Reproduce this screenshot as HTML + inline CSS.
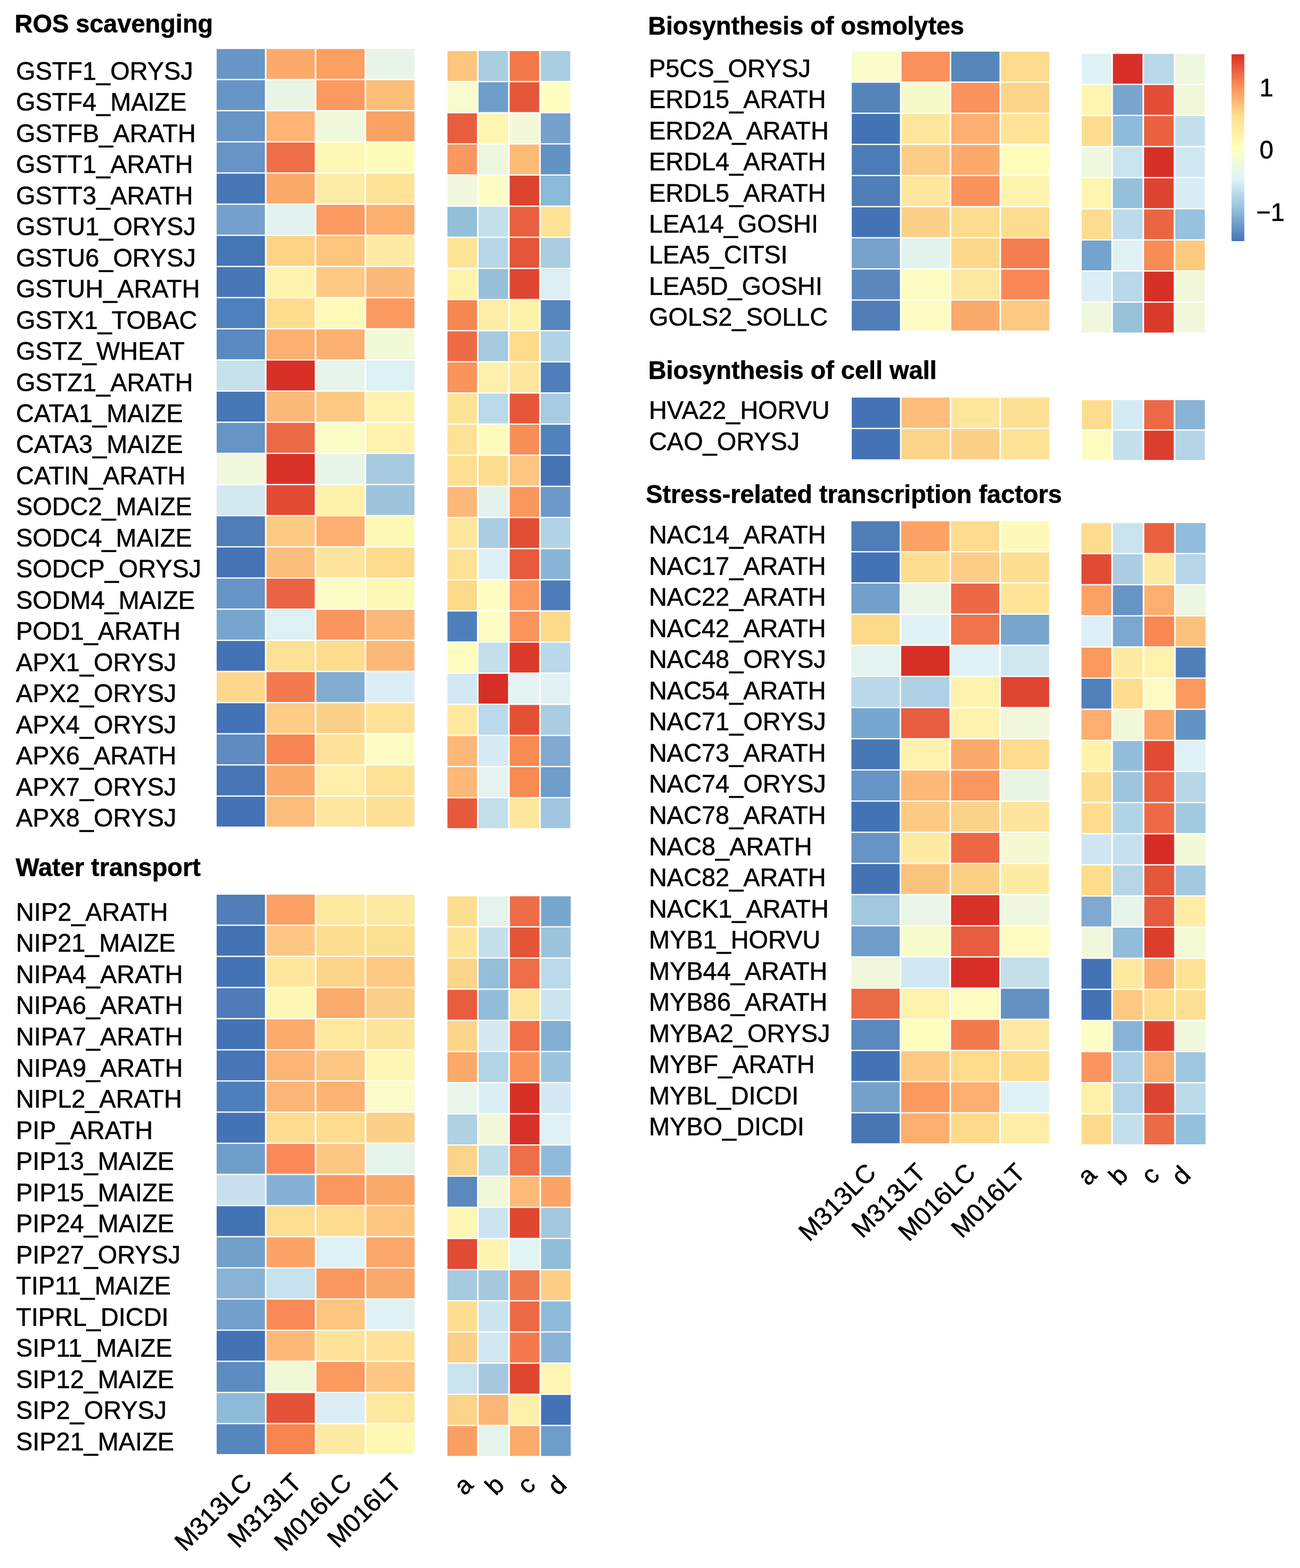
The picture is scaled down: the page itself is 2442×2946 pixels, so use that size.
<!DOCTYPE html>
<html><head><meta charset="utf-8"><title>Heatmap</title>
<style>
html,body{margin:0;padding:0;background:#fff;}
body{width:2442px;height:2946px;overflow:hidden;}
svg{display:block;}
#w{}
text{font-family:"Liberation Sans", Arial, sans-serif;font-size:48px;fill:#000;stroke:#000;stroke-width:0.6px;}
text.b{font-weight:bold;font-size:48px;}
</style></head><body>
<div id="w"><svg width="2442" height="2946" viewBox="0 0 2442 2946">
<defs><linearGradient id="lg" x1="0" y1="0" x2="0" y2="1">
<stop offset="0" stop-color="#D73027"/>
<stop offset="0.1667" stop-color="#FC8D59"/>
<stop offset="0.3333" stop-color="#FEE090"/>
<stop offset="0.5" stop-color="#FFFFBF"/>
<stop offset="0.6667" stop-color="#E0F3F8"/>
<stop offset="0.8333" stop-color="#91BFDB"/>
<stop offset="1" stop-color="#4575B4"/>
</linearGradient></defs>
<text class="b" transform="translate(27.60 61.00) scale(0.977 1)">ROS scavenging</text>
<text transform="translate(30.00 149.80) scale(0.977 1)">GSTF1_ORYSJ</text>
<text transform="translate(30.00 208.27) scale(0.977 1)">GSTF4_MAIZE</text>
<text transform="translate(30.00 266.74) scale(0.977 1)">GSTFB_ARATH</text>
<text transform="translate(30.00 325.21) scale(0.977 1)">GSTT1_ARATH</text>
<text transform="translate(30.00 383.68) scale(0.977 1)">GSTT3_ARATH</text>
<text transform="translate(30.00 442.15) scale(0.977 1)">GSTU1_ORYSJ</text>
<text transform="translate(30.00 500.62) scale(0.977 1)">GSTU6_ORYSJ</text>
<text transform="translate(30.00 559.09) scale(0.977 1)">GSTUH_ARATH</text>
<text transform="translate(30.00 617.56) scale(0.977 1)">GSTX1_TOBAC</text>
<text transform="translate(30.00 676.03) scale(0.977 1)">GSTZ_WHEAT</text>
<text transform="translate(30.00 734.50) scale(0.977 1)">GSTZ1_ARATH</text>
<text transform="translate(30.00 792.97) scale(0.977 1)">CATA1_MAIZE</text>
<text transform="translate(30.00 851.44) scale(0.977 1)">CATA3_MAIZE</text>
<text transform="translate(30.00 909.91) scale(0.977 1)">CATIN_ARATH</text>
<text transform="translate(30.00 968.38) scale(0.977 1)">SODC2_MAIZE</text>
<text transform="translate(30.00 1026.85) scale(0.977 1)">SODC4_MAIZE</text>
<text transform="translate(30.00 1085.32) scale(0.977 1)">SODCP_ORYSJ</text>
<text transform="translate(30.00 1143.79) scale(0.977 1)">SODM4_MAIZE</text>
<text transform="translate(30.00 1202.26) scale(0.977 1)">POD1_ARATH</text>
<text transform="translate(30.00 1260.73) scale(0.977 1)">APX1_ORYSJ</text>
<text transform="translate(30.00 1319.20) scale(0.977 1)">APX2_ORYSJ</text>
<text transform="translate(30.00 1377.67) scale(0.977 1)">APX4_ORYSJ</text>
<text transform="translate(30.00 1436.14) scale(0.977 1)">APX6_ARATH</text>
<text transform="translate(30.00 1494.61) scale(0.977 1)">APX7_ORYSJ</text>
<text transform="translate(30.00 1553.08) scale(0.977 1)">APX8_ORYSJ</text>
<rect x="407.00" y="92.10" width="90.62" height="56.13" fill="#6897C7"/>
<rect x="500.62" y="92.10" width="90.62" height="56.13" fill="#FBAA6B"/>
<rect x="594.25" y="92.10" width="90.62" height="56.13" fill="#FBA062"/>
<rect x="687.88" y="92.10" width="90.62" height="56.13" fill="#E8F4E8"/>
<rect x="407.00" y="150.63" width="90.62" height="56.13" fill="#6694C6"/>
<rect x="500.62" y="150.63" width="90.62" height="56.13" fill="#E8F4E4"/>
<rect x="594.25" y="150.63" width="90.62" height="56.13" fill="#FB9961"/>
<rect x="687.88" y="150.63" width="90.62" height="56.13" fill="#FDBE78"/>
<rect x="407.00" y="209.16" width="90.62" height="56.13" fill="#6694C6"/>
<rect x="500.62" y="209.16" width="90.62" height="56.13" fill="#FDB474"/>
<rect x="594.25" y="209.16" width="90.62" height="56.13" fill="#F0F8DC"/>
<rect x="687.88" y="209.16" width="90.62" height="56.13" fill="#FAA264"/>
<rect x="407.00" y="267.70" width="90.62" height="56.13" fill="#6694C6"/>
<rect x="500.62" y="267.70" width="90.62" height="56.13" fill="#EE6E48"/>
<rect x="594.25" y="267.70" width="90.62" height="56.13" fill="#FEF8B4"/>
<rect x="687.88" y="267.70" width="90.62" height="56.13" fill="#FEFBB9"/>
<rect x="407.00" y="326.23" width="90.62" height="56.13" fill="#4777B5"/>
<rect x="500.62" y="326.23" width="90.62" height="56.13" fill="#FBA96A"/>
<rect x="594.25" y="326.23" width="90.62" height="56.13" fill="#FEEBA6"/>
<rect x="687.88" y="326.23" width="90.62" height="56.13" fill="#FEE296"/>
<rect x="407.00" y="384.76" width="90.62" height="56.13" fill="#74A1CC"/>
<rect x="500.62" y="384.76" width="90.62" height="56.13" fill="#E2F3EF"/>
<rect x="594.25" y="384.76" width="90.62" height="56.13" fill="#FB9961"/>
<rect x="687.88" y="384.76" width="90.62" height="56.13" fill="#FCB070"/>
<rect x="407.00" y="443.29" width="90.62" height="56.13" fill="#4475B5"/>
<rect x="500.62" y="443.29" width="90.62" height="56.13" fill="#FDD386"/>
<rect x="594.25" y="443.29" width="90.62" height="56.13" fill="#FDC47D"/>
<rect x="687.88" y="443.29" width="90.62" height="56.13" fill="#FEEAA2"/>
<rect x="407.00" y="501.82" width="90.62" height="56.13" fill="#4777B5"/>
<rect x="500.62" y="501.82" width="90.62" height="56.13" fill="#FEF2AE"/>
<rect x="594.25" y="501.82" width="90.62" height="56.13" fill="#FDC984"/>
<rect x="687.88" y="501.82" width="90.62" height="56.13" fill="#FCB97A"/>
<rect x="407.00" y="560.36" width="90.62" height="56.13" fill="#4E80BB"/>
<rect x="500.62" y="560.36" width="90.62" height="56.13" fill="#FEDC8E"/>
<rect x="594.25" y="560.36" width="90.62" height="56.13" fill="#FDFABA"/>
<rect x="687.88" y="560.36" width="90.62" height="56.13" fill="#FB9B61"/>
<rect x="407.00" y="618.89" width="90.62" height="56.13" fill="#5989C0"/>
<rect x="500.62" y="618.89" width="90.62" height="56.13" fill="#FCB071"/>
<rect x="594.25" y="618.89" width="90.62" height="56.13" fill="#FCB071"/>
<rect x="687.88" y="618.89" width="90.62" height="56.13" fill="#F2F9D6"/>
<rect x="407.00" y="677.42" width="90.62" height="56.13" fill="#C6E1EC"/>
<rect x="500.62" y="677.42" width="90.62" height="56.13" fill="#D82F26"/>
<rect x="594.25" y="677.42" width="90.62" height="56.13" fill="#E6F4E9"/>
<rect x="687.88" y="677.42" width="90.62" height="56.13" fill="#DDF0F4"/>
<rect x="407.00" y="735.95" width="90.62" height="56.13" fill="#4777B5"/>
<rect x="500.62" y="735.95" width="90.62" height="56.13" fill="#FCBA7A"/>
<rect x="594.25" y="735.95" width="90.62" height="56.13" fill="#FDC881"/>
<rect x="687.88" y="735.95" width="90.62" height="56.13" fill="#FEF2AE"/>
<rect x="407.00" y="794.48" width="90.62" height="56.13" fill="#6594C6"/>
<rect x="500.62" y="794.48" width="90.62" height="56.13" fill="#EC6946"/>
<rect x="594.25" y="794.48" width="90.62" height="56.13" fill="#FAFCC6"/>
<rect x="687.88" y="794.48" width="90.62" height="56.13" fill="#FEF2AC"/>
<rect x="407.00" y="853.02" width="90.62" height="56.13" fill="#F1F8DE"/>
<rect x="500.62" y="853.02" width="90.62" height="56.13" fill="#D83228"/>
<rect x="594.25" y="853.02" width="90.62" height="56.13" fill="#E6F4EA"/>
<rect x="687.88" y="853.02" width="90.62" height="56.13" fill="#A7CAE0"/>
<rect x="407.00" y="911.55" width="90.62" height="56.13" fill="#D3E9F2"/>
<rect x="500.62" y="911.55" width="90.62" height="56.13" fill="#E24A33"/>
<rect x="594.25" y="911.55" width="90.62" height="56.13" fill="#FEF1AA"/>
<rect x="687.88" y="911.55" width="90.62" height="56.13" fill="#9DC3DD"/>
<rect x="407.00" y="970.08" width="90.62" height="56.13" fill="#4F7DB8"/>
<rect x="500.62" y="970.08" width="90.62" height="56.13" fill="#FDCA84"/>
<rect x="594.25" y="970.08" width="90.62" height="56.13" fill="#FCAF70"/>
<rect x="687.88" y="970.08" width="90.62" height="56.13" fill="#FEF8B5"/>
<rect x="407.00" y="1028.61" width="90.62" height="56.13" fill="#4573B5"/>
<rect x="500.62" y="1028.61" width="90.62" height="56.13" fill="#FCBE7C"/>
<rect x="594.25" y="1028.61" width="90.62" height="56.13" fill="#FEE49C"/>
<rect x="687.88" y="1028.61" width="90.62" height="56.13" fill="#FDDA8C"/>
<rect x="407.00" y="1087.14" width="90.62" height="56.13" fill="#6694C6"/>
<rect x="500.62" y="1087.14" width="90.62" height="56.13" fill="#EA6444"/>
<rect x="594.25" y="1087.14" width="90.62" height="56.13" fill="#FCFCC5"/>
<rect x="687.88" y="1087.14" width="90.62" height="56.13" fill="#FEF8B5"/>
<rect x="407.00" y="1145.68" width="90.62" height="56.13" fill="#78A5CD"/>
<rect x="500.62" y="1145.68" width="90.62" height="56.13" fill="#DDF0F4"/>
<rect x="594.25" y="1145.68" width="90.62" height="56.13" fill="#FA955E"/>
<rect x="687.88" y="1145.68" width="90.62" height="56.13" fill="#FCB878"/>
<rect x="407.00" y="1204.21" width="90.62" height="56.13" fill="#4473B5"/>
<rect x="500.62" y="1204.21" width="90.62" height="56.13" fill="#FDE196"/>
<rect x="594.25" y="1204.21" width="90.62" height="56.13" fill="#FDDC8E"/>
<rect x="687.88" y="1204.21" width="90.62" height="56.13" fill="#FCB878"/>
<rect x="407.00" y="1262.74" width="90.62" height="56.13" fill="#FDD78B"/>
<rect x="500.62" y="1262.74" width="90.62" height="56.13" fill="#F27A4E"/>
<rect x="594.25" y="1262.74" width="90.62" height="56.13" fill="#82ADD1"/>
<rect x="687.88" y="1262.74" width="90.62" height="56.13" fill="#DCEEF5"/>
<rect x="407.00" y="1321.27" width="90.62" height="56.13" fill="#4473B5"/>
<rect x="500.62" y="1321.27" width="90.62" height="56.13" fill="#FDCC86"/>
<rect x="594.25" y="1321.27" width="90.62" height="56.13" fill="#FBD189"/>
<rect x="687.88" y="1321.27" width="90.62" height="56.13" fill="#FEE196"/>
<rect x="407.00" y="1379.80" width="90.62" height="56.13" fill="#5F8BC0"/>
<rect x="500.62" y="1379.80" width="90.62" height="56.13" fill="#F7854F"/>
<rect x="594.25" y="1379.80" width="90.62" height="56.13" fill="#FDE196"/>
<rect x="687.88" y="1379.80" width="90.62" height="56.13" fill="#FCFBC2"/>
<rect x="407.00" y="1438.34" width="90.62" height="56.13" fill="#4675B5"/>
<rect x="500.62" y="1438.34" width="90.62" height="56.13" fill="#FBA96A"/>
<rect x="594.25" y="1438.34" width="90.62" height="56.13" fill="#FEEEAA"/>
<rect x="687.88" y="1438.34" width="90.62" height="56.13" fill="#FEE196"/>
<rect x="407.00" y="1496.87" width="90.62" height="56.13" fill="#4473B5"/>
<rect x="500.62" y="1496.87" width="90.62" height="56.13" fill="#FCBD7A"/>
<rect x="594.25" y="1496.87" width="90.62" height="56.13" fill="#FEE69E"/>
<rect x="687.88" y="1496.87" width="90.62" height="56.13" fill="#FDE094"/>
<rect x="840.50" y="96.00" width="55.45" height="56.10" fill="#FDC57E"/>
<rect x="898.95" y="96.00" width="55.45" height="56.10" fill="#A9CDE1"/>
<rect x="957.40" y="96.00" width="55.45" height="56.10" fill="#F3794B"/>
<rect x="1015.85" y="96.00" width="55.45" height="56.10" fill="#A9CDE1"/>
<rect x="840.50" y="154.50" width="55.45" height="56.10" fill="#F7FBCD"/>
<rect x="898.95" y="154.50" width="55.45" height="56.10" fill="#6E9DCA"/>
<rect x="957.40" y="154.50" width="55.45" height="56.10" fill="#E5573A"/>
<rect x="1015.85" y="154.50" width="55.45" height="56.10" fill="#FEFEBE"/>
<rect x="840.50" y="212.99" width="55.45" height="56.10" fill="#E65E3D"/>
<rect x="898.95" y="212.99" width="55.45" height="56.10" fill="#FDF5B0"/>
<rect x="957.40" y="212.99" width="55.45" height="56.10" fill="#F3F9D8"/>
<rect x="1015.85" y="212.99" width="55.45" height="56.10" fill="#75A1CC"/>
<rect x="840.50" y="271.49" width="55.45" height="56.10" fill="#FA9760"/>
<rect x="898.95" y="271.49" width="55.45" height="56.10" fill="#EDF6DF"/>
<rect x="957.40" y="271.49" width="55.45" height="56.10" fill="#FDBC76"/>
<rect x="1015.85" y="271.49" width="55.45" height="56.10" fill="#6393C4"/>
<rect x="840.50" y="329.98" width="55.45" height="56.10" fill="#EFF7DE"/>
<rect x="898.95" y="329.98" width="55.45" height="56.10" fill="#FEFDC5"/>
<rect x="957.40" y="329.98" width="55.45" height="56.10" fill="#DC4430"/>
<rect x="1015.85" y="329.98" width="55.45" height="56.10" fill="#8ABAD9"/>
<rect x="840.50" y="388.48" width="55.45" height="56.10" fill="#93BFDA"/>
<rect x="898.95" y="388.48" width="55.45" height="56.10" fill="#C3DFEB"/>
<rect x="957.40" y="388.48" width="55.45" height="56.10" fill="#E8603F"/>
<rect x="1015.85" y="388.48" width="55.45" height="56.10" fill="#FEE295"/>
<rect x="840.50" y="446.98" width="55.45" height="56.10" fill="#FEE496"/>
<rect x="898.95" y="446.98" width="55.45" height="56.10" fill="#B6D6E8"/>
<rect x="957.40" y="446.98" width="55.45" height="56.10" fill="#E5553A"/>
<rect x="1015.85" y="446.98" width="55.45" height="56.10" fill="#AACDE1"/>
<rect x="840.50" y="505.47" width="55.45" height="56.10" fill="#FDF3AC"/>
<rect x="898.95" y="505.47" width="55.45" height="56.10" fill="#96BFDA"/>
<rect x="957.40" y="505.47" width="55.45" height="56.10" fill="#DE4632"/>
<rect x="1015.85" y="505.47" width="55.45" height="56.10" fill="#DDEEF5"/>
<rect x="840.50" y="563.97" width="55.45" height="56.10" fill="#F58753"/>
<rect x="898.95" y="563.97" width="55.45" height="56.10" fill="#FEEDA4"/>
<rect x="957.40" y="563.97" width="55.45" height="56.10" fill="#FEF2AB"/>
<rect x="1015.85" y="563.97" width="55.45" height="56.10" fill="#5586BD"/>
<rect x="840.50" y="622.46" width="55.45" height="56.10" fill="#EC6B45"/>
<rect x="898.95" y="622.46" width="55.45" height="56.10" fill="#A6CAE0"/>
<rect x="957.40" y="622.46" width="55.45" height="56.10" fill="#FEDA8C"/>
<rect x="1015.85" y="622.46" width="55.45" height="56.10" fill="#B2D2E5"/>
<rect x="840.50" y="680.96" width="55.45" height="56.10" fill="#FA945C"/>
<rect x="898.95" y="680.96" width="55.45" height="56.10" fill="#FEF0AA"/>
<rect x="957.40" y="680.96" width="55.45" height="56.10" fill="#FEE69D"/>
<rect x="1015.85" y="680.96" width="55.45" height="56.10" fill="#4F7FBA"/>
<rect x="840.50" y="739.46" width="55.45" height="56.10" fill="#FDE397"/>
<rect x="898.95" y="739.46" width="55.45" height="56.10" fill="#BAD9EA"/>
<rect x="957.40" y="739.46" width="55.45" height="56.10" fill="#E6573A"/>
<rect x="1015.85" y="739.46" width="55.45" height="56.10" fill="#A8CBE1"/>
<rect x="840.50" y="797.95" width="55.45" height="56.10" fill="#FDE194"/>
<rect x="898.95" y="797.95" width="55.45" height="56.10" fill="#FEFBBA"/>
<rect x="957.40" y="797.95" width="55.45" height="56.10" fill="#F88F58"/>
<rect x="1015.85" y="797.95" width="55.45" height="56.10" fill="#5182BC"/>
<rect x="840.50" y="856.45" width="55.45" height="56.10" fill="#FEDF92"/>
<rect x="898.95" y="856.45" width="55.45" height="56.10" fill="#FEDD8E"/>
<rect x="957.40" y="856.45" width="55.45" height="56.10" fill="#FDC680"/>
<rect x="1015.85" y="856.45" width="55.45" height="56.10" fill="#4573B4"/>
<rect x="840.50" y="914.94" width="55.45" height="56.10" fill="#FBB878"/>
<rect x="898.95" y="914.94" width="55.45" height="56.10" fill="#E3F2EA"/>
<rect x="957.40" y="914.94" width="55.45" height="56.10" fill="#FA975D"/>
<rect x="1015.85" y="914.94" width="55.45" height="56.10" fill="#6A99C9"/>
<rect x="840.50" y="973.44" width="55.45" height="56.10" fill="#FEE69D"/>
<rect x="898.95" y="973.44" width="55.45" height="56.10" fill="#ABCDE3"/>
<rect x="957.40" y="973.44" width="55.45" height="56.10" fill="#E24D35"/>
<rect x="1015.85" y="973.44" width="55.45" height="56.10" fill="#B1D3E6"/>
<rect x="840.50" y="1031.94" width="55.45" height="56.10" fill="#FDE196"/>
<rect x="898.95" y="1031.94" width="55.45" height="56.10" fill="#DDEFF6"/>
<rect x="957.40" y="1031.94" width="55.45" height="56.10" fill="#E75A3B"/>
<rect x="1015.85" y="1031.94" width="55.45" height="56.10" fill="#88B4D7"/>
<rect x="840.50" y="1090.43" width="55.45" height="56.10" fill="#FDD98A"/>
<rect x="898.95" y="1090.43" width="55.45" height="56.10" fill="#FEFCC0"/>
<rect x="957.40" y="1090.43" width="55.45" height="56.10" fill="#FA995D"/>
<rect x="1015.85" y="1090.43" width="55.45" height="56.10" fill="#4D7CB8"/>
<rect x="840.50" y="1148.93" width="55.45" height="56.10" fill="#4F7FBA"/>
<rect x="898.95" y="1148.93" width="55.45" height="56.10" fill="#FCFCC3"/>
<rect x="957.40" y="1148.93" width="55.45" height="56.10" fill="#FA955E"/>
<rect x="1015.85" y="1148.93" width="55.45" height="56.10" fill="#FDD98A"/>
<rect x="840.50" y="1207.42" width="55.45" height="56.10" fill="#FEFDC0"/>
<rect x="898.95" y="1207.42" width="55.45" height="56.10" fill="#C3DFEB"/>
<rect x="957.40" y="1207.42" width="55.45" height="56.10" fill="#DA3A2A"/>
<rect x="1015.85" y="1207.42" width="55.45" height="56.10" fill="#B9D8EA"/>
<rect x="840.50" y="1265.92" width="55.45" height="56.10" fill="#D3E8F2"/>
<rect x="898.95" y="1265.92" width="55.45" height="56.10" fill="#D62F27"/>
<rect x="957.40" y="1265.92" width="55.45" height="56.10" fill="#E3F3F1"/>
<rect x="1015.85" y="1265.92" width="55.45" height="56.10" fill="#E1F1F3"/>
<rect x="840.50" y="1324.42" width="55.45" height="56.10" fill="#FEE89E"/>
<rect x="898.95" y="1324.42" width="55.45" height="56.10" fill="#BBD9EC"/>
<rect x="957.40" y="1324.42" width="55.45" height="56.10" fill="#E34F35"/>
<rect x="1015.85" y="1324.42" width="55.45" height="56.10" fill="#AACDE2"/>
<rect x="840.50" y="1382.91" width="55.45" height="56.10" fill="#FBB878"/>
<rect x="898.95" y="1382.91" width="55.45" height="56.10" fill="#D5EAF4"/>
<rect x="957.40" y="1382.91" width="55.45" height="56.10" fill="#F88B52"/>
<rect x="1015.85" y="1382.91" width="55.45" height="56.10" fill="#80AAD1"/>
<rect x="840.50" y="1441.41" width="55.45" height="56.10" fill="#FBB878"/>
<rect x="898.95" y="1441.41" width="55.45" height="56.10" fill="#E4F3EF"/>
<rect x="957.40" y="1441.41" width="55.45" height="56.10" fill="#F88B52"/>
<rect x="1015.85" y="1441.41" width="55.45" height="56.10" fill="#6E9DC9"/>
<rect x="840.50" y="1499.90" width="55.45" height="56.10" fill="#E65A3B"/>
<rect x="898.95" y="1499.90" width="55.45" height="56.10" fill="#C1DEEA"/>
<rect x="957.40" y="1499.90" width="55.45" height="56.10" fill="#FEE69D"/>
<rect x="1015.85" y="1499.90" width="55.45" height="56.10" fill="#A0C6DF"/>
<text class="b" transform="translate(29.50 1646.00) scale(0.977 1)">Water transport</text>
<text transform="translate(30.00 1729.80) scale(0.977 1)">NIP2_ARATH</text>
<text transform="translate(30.00 1788.34) scale(0.977 1)">NIP21_MAIZE</text>
<text transform="translate(30.00 1846.88) scale(0.977 1)">NIPA4_ARATH</text>
<text transform="translate(30.00 1905.42) scale(0.977 1)">NIPA6_ARATH</text>
<text transform="translate(30.00 1963.96) scale(0.977 1)">NIPA7_ARATH</text>
<text transform="translate(30.00 2022.50) scale(0.977 1)">NIPA9_ARATH</text>
<text transform="translate(30.00 2081.04) scale(0.977 1)">NIPL2_ARATH</text>
<text transform="translate(30.00 2139.58) scale(0.977 1)">PIP_ARATH</text>
<text transform="translate(30.00 2198.12) scale(0.977 1)">PIP13_MAIZE</text>
<text transform="translate(30.00 2256.66) scale(0.977 1)">PIP15_MAIZE</text>
<text transform="translate(30.00 2315.20) scale(0.977 1)">PIP24_MAIZE</text>
<text transform="translate(30.00 2373.74) scale(0.977 1)">PIP27_ORYSJ</text>
<text transform="translate(30.00 2432.28) scale(0.977 1)">TIP11_MAIZE</text>
<text transform="translate(30.00 2490.82) scale(0.977 1)">TIPRL_DICDI</text>
<text transform="translate(30.00 2549.36) scale(0.977 1)">SIP11_MAIZE</text>
<text transform="translate(30.00 2607.90) scale(0.977 1)">SIP12_MAIZE</text>
<text transform="translate(30.00 2666.44) scale(0.977 1)">SIP2_ORYSJ</text>
<text transform="translate(30.00 2724.98) scale(0.977 1)">SIP21_MAIZE</text>
<rect x="407.00" y="1681.00" width="90.70" height="56.12" fill="#4F7EB9"/>
<rect x="500.70" y="1681.00" width="90.70" height="56.12" fill="#FB9F63"/>
<rect x="594.40" y="1681.00" width="90.70" height="56.12" fill="#FEE89E"/>
<rect x="688.10" y="1681.00" width="90.70" height="56.12" fill="#FEE9A1"/>
<rect x="407.00" y="1739.52" width="90.70" height="56.12" fill="#4473B5"/>
<rect x="500.70" y="1739.52" width="90.70" height="56.12" fill="#FDC682"/>
<rect x="594.40" y="1739.52" width="90.70" height="56.12" fill="#FDDD90"/>
<rect x="688.10" y="1739.52" width="90.70" height="56.12" fill="#FDDF92"/>
<rect x="407.00" y="1798.04" width="90.70" height="56.12" fill="#4473B5"/>
<rect x="500.70" y="1798.04" width="90.70" height="56.12" fill="#FEE79D"/>
<rect x="594.40" y="1798.04" width="90.70" height="56.12" fill="#FBD48A"/>
<rect x="688.10" y="1798.04" width="90.70" height="56.12" fill="#FDC983"/>
<rect x="407.00" y="1856.57" width="90.70" height="56.12" fill="#4F7CB8"/>
<rect x="500.70" y="1856.57" width="90.70" height="56.12" fill="#FDF7B3"/>
<rect x="594.40" y="1856.57" width="90.70" height="56.12" fill="#FBAB6C"/>
<rect x="688.10" y="1856.57" width="90.70" height="56.12" fill="#FBD18A"/>
<rect x="407.00" y="1915.09" width="90.70" height="56.12" fill="#4473B5"/>
<rect x="500.70" y="1915.09" width="90.70" height="56.12" fill="#FBAB6C"/>
<rect x="594.40" y="1915.09" width="90.70" height="56.12" fill="#FEE89E"/>
<rect x="688.10" y="1915.09" width="90.70" height="56.12" fill="#FEE59C"/>
<rect x="407.00" y="1973.61" width="90.70" height="56.12" fill="#4775B5"/>
<rect x="500.70" y="1973.61" width="90.70" height="56.12" fill="#FCB576"/>
<rect x="594.40" y="1973.61" width="90.70" height="56.12" fill="#FDC682"/>
<rect x="688.10" y="1973.61" width="90.70" height="56.12" fill="#FDF6B4"/>
<rect x="407.00" y="2032.13" width="90.70" height="56.12" fill="#4F7FBA"/>
<rect x="500.70" y="2032.13" width="90.70" height="56.12" fill="#FCB576"/>
<rect x="594.40" y="2032.13" width="90.70" height="56.12" fill="#FCB374"/>
<rect x="688.10" y="2032.13" width="90.70" height="56.12" fill="#F9FBCA"/>
<rect x="407.00" y="2090.66" width="90.70" height="56.12" fill="#4473B5"/>
<rect x="500.70" y="2090.66" width="90.70" height="56.12" fill="#FDDB8F"/>
<rect x="594.40" y="2090.66" width="90.70" height="56.12" fill="#FDDC8F"/>
<rect x="688.10" y="2090.66" width="90.70" height="56.12" fill="#FBD189"/>
<rect x="407.00" y="2149.18" width="90.70" height="56.12" fill="#6E9DC9"/>
<rect x="500.70" y="2149.18" width="90.70" height="56.12" fill="#F98958"/>
<rect x="594.40" y="2149.18" width="90.70" height="56.12" fill="#FDC682"/>
<rect x="688.10" y="2149.18" width="90.70" height="56.12" fill="#E4F3EB"/>
<rect x="407.00" y="2207.70" width="90.70" height="56.12" fill="#C8E0EE"/>
<rect x="500.70" y="2207.70" width="90.70" height="56.12" fill="#84B1D5"/>
<rect x="594.40" y="2207.70" width="90.70" height="56.12" fill="#FA975F"/>
<rect x="688.10" y="2207.70" width="90.70" height="56.12" fill="#FBA96B"/>
<rect x="407.00" y="2266.22" width="90.70" height="56.12" fill="#4473B5"/>
<rect x="500.70" y="2266.22" width="90.70" height="56.12" fill="#FDDE92"/>
<rect x="594.40" y="2266.22" width="90.70" height="56.12" fill="#FDDB8F"/>
<rect x="688.10" y="2266.22" width="90.70" height="56.12" fill="#FCC580"/>
<rect x="407.00" y="2324.74" width="90.70" height="56.12" fill="#72A0CA"/>
<rect x="500.70" y="2324.74" width="90.70" height="56.12" fill="#FCA367"/>
<rect x="594.40" y="2324.74" width="90.70" height="56.12" fill="#DFF1F6"/>
<rect x="688.10" y="2324.74" width="90.70" height="56.12" fill="#FBA76B"/>
<rect x="407.00" y="2383.27" width="90.70" height="56.12" fill="#88B3D5"/>
<rect x="500.70" y="2383.27" width="90.70" height="56.12" fill="#C7E1EE"/>
<rect x="594.40" y="2383.27" width="90.70" height="56.12" fill="#FA975F"/>
<rect x="688.10" y="2383.27" width="90.70" height="56.12" fill="#FBA86B"/>
<rect x="407.00" y="2441.79" width="90.70" height="56.12" fill="#72A0CA"/>
<rect x="500.70" y="2441.79" width="90.70" height="56.12" fill="#F98956"/>
<rect x="594.40" y="2441.79" width="90.70" height="56.12" fill="#FCC580"/>
<rect x="688.10" y="2441.79" width="90.70" height="56.12" fill="#E0F1F6"/>
<rect x="407.00" y="2500.31" width="90.70" height="56.12" fill="#4473B5"/>
<rect x="500.70" y="2500.31" width="90.70" height="56.12" fill="#FCB878"/>
<rect x="594.40" y="2500.31" width="90.70" height="56.12" fill="#FEE298"/>
<rect x="688.10" y="2500.31" width="90.70" height="56.12" fill="#FEE298"/>
<rect x="407.00" y="2558.83" width="90.70" height="56.12" fill="#5C8CC0"/>
<rect x="500.70" y="2558.83" width="90.70" height="56.12" fill="#F0F8D8"/>
<rect x="594.40" y="2558.83" width="90.70" height="56.12" fill="#FA9A5F"/>
<rect x="688.10" y="2558.83" width="90.70" height="56.12" fill="#FDC682"/>
<rect x="407.00" y="2617.36" width="90.70" height="56.12" fill="#8EBAD9"/>
<rect x="500.70" y="2617.36" width="90.70" height="56.12" fill="#E45337"/>
<rect x="594.40" y="2617.36" width="90.70" height="56.12" fill="#DCEEF5"/>
<rect x="688.10" y="2617.36" width="90.70" height="56.12" fill="#FEE8A0"/>
<rect x="407.00" y="2675.88" width="90.70" height="56.12" fill="#5686BE"/>
<rect x="500.70" y="2675.88" width="90.70" height="56.12" fill="#F7834F"/>
<rect x="594.40" y="2675.88" width="90.70" height="56.12" fill="#FEEAA2"/>
<rect x="688.10" y="2675.88" width="90.70" height="56.12" fill="#FEF8B4"/>
<rect x="840.50" y="1684.00" width="55.62" height="56.15" fill="#FDDE91"/>
<rect x="899.12" y="1684.00" width="55.62" height="56.15" fill="#E4F3EB"/>
<rect x="957.75" y="1684.00" width="55.62" height="56.15" fill="#EE6D48"/>
<rect x="1016.38" y="1684.00" width="55.62" height="56.15" fill="#77A7CF"/>
<rect x="840.50" y="1742.55" width="55.62" height="56.15" fill="#FEE59C"/>
<rect x="899.12" y="1742.55" width="55.62" height="56.15" fill="#C5E0EC"/>
<rect x="957.75" y="1742.55" width="55.62" height="56.15" fill="#E45538"/>
<rect x="1016.38" y="1742.55" width="55.62" height="56.15" fill="#9BC4DC"/>
<rect x="840.50" y="1801.10" width="55.62" height="56.15" fill="#FBD48A"/>
<rect x="899.12" y="1801.10" width="55.62" height="56.15" fill="#95BEDA"/>
<rect x="957.75" y="1801.10" width="55.62" height="56.15" fill="#EE6E48"/>
<rect x="1016.38" y="1801.10" width="55.62" height="56.15" fill="#BBD9EA"/>
<rect x="840.50" y="1859.65" width="55.62" height="56.15" fill="#E75D3D"/>
<rect x="899.12" y="1859.65" width="55.62" height="56.15" fill="#92BCDA"/>
<rect x="957.75" y="1859.65" width="55.62" height="56.15" fill="#FEE69C"/>
<rect x="1016.38" y="1859.65" width="55.62" height="56.15" fill="#CCE4EF"/>
<rect x="840.50" y="1918.20" width="55.62" height="56.15" fill="#FBD48A"/>
<rect x="899.12" y="1918.20" width="55.62" height="56.15" fill="#D4E9F3"/>
<rect x="957.75" y="1918.20" width="55.62" height="56.15" fill="#EF7048"/>
<rect x="1016.38" y="1918.20" width="55.62" height="56.15" fill="#82AED3"/>
<rect x="840.50" y="1976.75" width="55.62" height="56.15" fill="#FBA96A"/>
<rect x="899.12" y="1976.75" width="55.62" height="56.15" fill="#B3D3E6"/>
<rect x="957.75" y="1976.75" width="55.62" height="56.15" fill="#FA925A"/>
<rect x="1016.38" y="1976.75" width="55.62" height="56.15" fill="#9CC4DE"/>
<rect x="840.50" y="2035.30" width="55.62" height="56.15" fill="#E8F5E9"/>
<rect x="899.12" y="2035.30" width="55.62" height="56.15" fill="#DBEEF5"/>
<rect x="957.75" y="2035.30" width="55.62" height="56.15" fill="#D73027"/>
<rect x="1016.38" y="2035.30" width="55.62" height="56.15" fill="#D4E9F3"/>
<rect x="840.50" y="2093.85" width="55.62" height="56.15" fill="#B0D0E4"/>
<rect x="899.12" y="2093.85" width="55.62" height="56.15" fill="#F0F8D8"/>
<rect x="957.75" y="2093.85" width="55.62" height="56.15" fill="#D73229"/>
<rect x="1016.38" y="2093.85" width="55.62" height="56.15" fill="#DFF0F5"/>
<rect x="840.50" y="2152.40" width="55.62" height="56.15" fill="#FBD38A"/>
<rect x="899.12" y="2152.40" width="55.62" height="56.15" fill="#C0DDEA"/>
<rect x="957.75" y="2152.40" width="55.62" height="56.15" fill="#EE6E49"/>
<rect x="1016.38" y="2152.40" width="55.62" height="56.15" fill="#8FBBDA"/>
<rect x="840.50" y="2210.95" width="55.62" height="56.15" fill="#5B89BE"/>
<rect x="899.12" y="2210.95" width="55.62" height="56.15" fill="#F0F8D7"/>
<rect x="957.75" y="2210.95" width="55.62" height="56.15" fill="#FDBA78"/>
<rect x="1016.38" y="2210.95" width="55.62" height="56.15" fill="#FBA466"/>
<rect x="840.50" y="2269.50" width="55.62" height="56.15" fill="#FDF6B4"/>
<rect x="899.12" y="2269.50" width="55.62" height="56.15" fill="#CCE3F0"/>
<rect x="957.75" y="2269.50" width="55.62" height="56.15" fill="#E0462F"/>
<rect x="1016.38" y="2269.50" width="55.62" height="56.15" fill="#A3C8DF"/>
<rect x="840.50" y="2328.05" width="55.62" height="56.15" fill="#E14B33"/>
<rect x="899.12" y="2328.05" width="55.62" height="56.15" fill="#FEF4B0"/>
<rect x="957.75" y="2328.05" width="55.62" height="56.15" fill="#E1F3F5"/>
<rect x="1016.38" y="2328.05" width="55.62" height="56.15" fill="#90BCDB"/>
<rect x="840.50" y="2386.60" width="55.62" height="56.15" fill="#A6CBE1"/>
<rect x="899.12" y="2386.60" width="55.62" height="56.15" fill="#A5C8DF"/>
<rect x="957.75" y="2386.60" width="55.62" height="56.15" fill="#F07A4E"/>
<rect x="1016.38" y="2386.60" width="55.62" height="56.15" fill="#FDCD86"/>
<rect x="840.50" y="2445.15" width="55.62" height="56.15" fill="#FDDE91"/>
<rect x="899.12" y="2445.15" width="55.62" height="56.15" fill="#CCE3F0"/>
<rect x="957.75" y="2445.15" width="55.62" height="56.15" fill="#EC6946"/>
<rect x="1016.38" y="2445.15" width="55.62" height="56.15" fill="#8EBAD9"/>
<rect x="840.50" y="2503.70" width="55.62" height="56.15" fill="#FBD088"/>
<rect x="899.12" y="2503.70" width="55.62" height="56.15" fill="#D1E7F2"/>
<rect x="957.75" y="2503.70" width="55.62" height="56.15" fill="#F27A4E"/>
<rect x="1016.38" y="2503.70" width="55.62" height="56.15" fill="#89B4D7"/>
<rect x="840.50" y="2562.25" width="55.62" height="56.15" fill="#C9E3EE"/>
<rect x="899.12" y="2562.25" width="55.62" height="56.15" fill="#A5C8DF"/>
<rect x="957.75" y="2562.25" width="55.62" height="56.15" fill="#E0462F"/>
<rect x="1016.38" y="2562.25" width="55.62" height="56.15" fill="#FDF6B4"/>
<rect x="840.50" y="2620.80" width="55.62" height="56.15" fill="#FBD38A"/>
<rect x="899.12" y="2620.80" width="55.62" height="56.15" fill="#FCB575"/>
<rect x="957.75" y="2620.80" width="55.62" height="56.15" fill="#FEF0AA"/>
<rect x="1016.38" y="2620.80" width="55.62" height="56.15" fill="#4473B5"/>
<rect x="840.50" y="2679.35" width="55.62" height="56.15" fill="#FA9F63"/>
<rect x="899.12" y="2679.35" width="55.62" height="56.15" fill="#E4F3EB"/>
<rect x="957.75" y="2679.35" width="55.62" height="56.15" fill="#FBAB6C"/>
<rect x="1016.38" y="2679.35" width="55.62" height="56.15" fill="#6E9DC9"/>
<text text-anchor="end" transform="translate(476.00 2788.50) rotate(-45)">M313LC</text>
<text text-anchor="end" transform="translate(569.60 2788.50) rotate(-45)">M313LT</text>
<text text-anchor="end" transform="translate(663.20 2788.50) rotate(-45)">M016LC</text>
<text text-anchor="end" transform="translate(756.80 2788.50) rotate(-45)">M016LT</text>
<text text-anchor="end" transform="translate(891.46 2792.50) rotate(-45)">a</text>
<text text-anchor="end" transform="translate(949.99 2792.50) rotate(-45)">b</text>
<text text-anchor="end" transform="translate(1008.51 2792.50) rotate(-45)">c</text>
<text text-anchor="end" transform="translate(1067.04 2792.50) rotate(-45)">d</text>
<text class="b" transform="translate(1217.20 64.80) scale(0.977 1)">Biosynthesis of osmolytes</text>
<text transform="translate(1219.00 145.00) scale(0.977 1)">P5CS_ORYSJ</text>
<text transform="translate(1219.00 203.40) scale(0.977 1)">ERD15_ARATH</text>
<text transform="translate(1219.00 261.80) scale(0.977 1)">ERD2A_ARATH</text>
<text transform="translate(1219.00 320.20) scale(0.977 1)">ERDL4_ARATH</text>
<text transform="translate(1219.00 378.60) scale(0.977 1)">ERDL5_ARATH</text>
<text transform="translate(1219.00 437.00) scale(0.977 1)">LEA14_GOSHI</text>
<text transform="translate(1219.00 495.40) scale(0.977 1)">LEA5_CITSI</text>
<text transform="translate(1219.00 553.80) scale(0.977 1)">LEA5D_GOSHI</text>
<text transform="translate(1219.00 612.20) scale(0.977 1)">GOLS2_SOLLC</text>
<rect x="1600.00" y="97.00" width="90.50" height="56.09" fill="#F9FBCA"/>
<rect x="1693.50" y="97.00" width="90.50" height="56.09" fill="#FB915C"/>
<rect x="1787.00" y="97.00" width="90.50" height="56.09" fill="#5786BB"/>
<rect x="1880.50" y="97.00" width="90.50" height="56.09" fill="#FDDA8E"/>
<rect x="1600.00" y="155.49" width="90.50" height="56.09" fill="#5584BB"/>
<rect x="1693.50" y="155.49" width="90.50" height="56.09" fill="#F6FACB"/>
<rect x="1787.00" y="155.49" width="90.50" height="56.09" fill="#FA935D"/>
<rect x="1880.50" y="155.49" width="90.50" height="56.09" fill="#FBD48A"/>
<rect x="1600.00" y="213.98" width="90.50" height="56.09" fill="#4473B5"/>
<rect x="1693.50" y="213.98" width="90.50" height="56.09" fill="#FEE69D"/>
<rect x="1787.00" y="213.98" width="90.50" height="56.09" fill="#FBAF70"/>
<rect x="1880.50" y="213.98" width="90.50" height="56.09" fill="#FEE398"/>
<rect x="1600.00" y="272.47" width="90.50" height="56.09" fill="#4C7CB8"/>
<rect x="1693.50" y="272.47" width="90.50" height="56.09" fill="#FDCC86"/>
<rect x="1787.00" y="272.47" width="90.50" height="56.09" fill="#FCAA6B"/>
<rect x="1880.50" y="272.47" width="90.50" height="56.09" fill="#FEFBBB"/>
<rect x="1600.00" y="330.96" width="90.50" height="56.09" fill="#4F7EB9"/>
<rect x="1693.50" y="330.96" width="90.50" height="56.09" fill="#FEE69D"/>
<rect x="1787.00" y="330.96" width="90.50" height="56.09" fill="#FB935D"/>
<rect x="1880.50" y="330.96" width="90.50" height="56.09" fill="#FEF3AE"/>
<rect x="1600.00" y="389.44" width="90.50" height="56.09" fill="#4473B5"/>
<rect x="1693.50" y="389.44" width="90.50" height="56.09" fill="#FBD088"/>
<rect x="1787.00" y="389.44" width="90.50" height="56.09" fill="#FDDB8F"/>
<rect x="1880.50" y="389.44" width="90.50" height="56.09" fill="#FDDC8F"/>
<rect x="1600.00" y="447.93" width="90.50" height="56.09" fill="#76A2CC"/>
<rect x="1693.50" y="447.93" width="90.50" height="56.09" fill="#E2F3EE"/>
<rect x="1787.00" y="447.93" width="90.50" height="56.09" fill="#FDD88B"/>
<rect x="1880.50" y="447.93" width="90.50" height="56.09" fill="#F47D4F"/>
<rect x="1600.00" y="506.42" width="90.50" height="56.09" fill="#5A88BE"/>
<rect x="1693.50" y="506.42" width="90.50" height="56.09" fill="#FCFCC2"/>
<rect x="1787.00" y="506.42" width="90.50" height="56.09" fill="#FEE79F"/>
<rect x="1880.50" y="506.42" width="90.50" height="56.09" fill="#F88957"/>
<rect x="1600.00" y="564.91" width="90.50" height="56.09" fill="#4F7DB8"/>
<rect x="1693.50" y="564.91" width="90.50" height="56.09" fill="#FCFCC3"/>
<rect x="1787.00" y="564.91" width="90.50" height="56.09" fill="#FAA96B"/>
<rect x="1880.50" y="564.91" width="90.50" height="56.09" fill="#FDC882"/>
<rect x="2032.00" y="101.20" width="55.58" height="56.04" fill="#DFF1F5"/>
<rect x="2090.57" y="101.20" width="55.58" height="56.04" fill="#D72F27"/>
<rect x="2149.15" y="101.20" width="55.58" height="56.04" fill="#B8D7E8"/>
<rect x="2207.73" y="101.20" width="55.58" height="56.04" fill="#EFF7DE"/>
<rect x="2032.00" y="159.64" width="55.58" height="56.04" fill="#FDF5B0"/>
<rect x="2090.57" y="159.64" width="55.58" height="56.04" fill="#7AA6CD"/>
<rect x="2149.15" y="159.64" width="55.58" height="56.04" fill="#E34C35"/>
<rect x="2207.73" y="159.64" width="55.58" height="56.04" fill="#F0F8DA"/>
<rect x="2032.00" y="218.09" width="55.58" height="56.04" fill="#FDDC8E"/>
<rect x="2090.57" y="218.09" width="55.58" height="56.04" fill="#8FBBDA"/>
<rect x="2149.15" y="218.09" width="55.58" height="56.04" fill="#E9613F"/>
<rect x="2207.73" y="218.09" width="55.58" height="56.04" fill="#C4E0EC"/>
<rect x="2032.00" y="276.53" width="55.58" height="56.04" fill="#EFF7DE"/>
<rect x="2090.57" y="276.53" width="55.58" height="56.04" fill="#C9E3EE"/>
<rect x="2149.15" y="276.53" width="55.58" height="56.04" fill="#D73027"/>
<rect x="2207.73" y="276.53" width="55.58" height="56.04" fill="#D0E7F2"/>
<rect x="2032.00" y="334.98" width="55.58" height="56.04" fill="#FDF5B0"/>
<rect x="2090.57" y="334.98" width="55.58" height="56.04" fill="#96C0DA"/>
<rect x="2149.15" y="334.98" width="55.58" height="56.04" fill="#DE4330"/>
<rect x="2207.73" y="334.98" width="55.58" height="56.04" fill="#D9EDF5"/>
<rect x="2032.00" y="393.42" width="55.58" height="56.04" fill="#FDDB8F"/>
<rect x="2090.57" y="393.42" width="55.58" height="56.04" fill="#BDDAEB"/>
<rect x="2149.15" y="393.42" width="55.58" height="56.04" fill="#EA6541"/>
<rect x="2207.73" y="393.42" width="55.58" height="56.04" fill="#98C1DD"/>
<rect x="2032.00" y="451.87" width="55.58" height="56.04" fill="#74A3CD"/>
<rect x="2090.57" y="451.87" width="55.58" height="56.04" fill="#DFF1F5"/>
<rect x="2149.15" y="451.87" width="55.58" height="56.04" fill="#F98B55"/>
<rect x="2207.73" y="451.87" width="55.58" height="56.04" fill="#FDCA80"/>
<rect x="2032.00" y="510.31" width="55.58" height="56.04" fill="#DBEDF5"/>
<rect x="2090.57" y="510.31" width="55.58" height="56.04" fill="#B8D7E8"/>
<rect x="2149.15" y="510.31" width="55.58" height="56.04" fill="#D73027"/>
<rect x="2207.73" y="510.31" width="55.58" height="56.04" fill="#F0F8DA"/>
<rect x="2032.00" y="568.76" width="55.58" height="56.04" fill="#EFF7DE"/>
<rect x="2090.57" y="568.76" width="55.58" height="56.04" fill="#98C2DB"/>
<rect x="2149.15" y="568.76" width="55.58" height="56.04" fill="#DA3A2A"/>
<rect x="2207.73" y="568.76" width="55.58" height="56.04" fill="#F0F8DA"/>
<text class="b" transform="translate(1217.70 711.70) scale(0.977 1)">Biosynthesis of cell wall</text>
<text transform="translate(1219.00 787.00) scale(0.977 1)">HVA22_HORVU</text>
<text transform="translate(1219.00 845.50) scale(0.977 1)">CAO_ORYSJ</text>
<rect x="1600.00" y="747.00" width="90.50" height="56.80" fill="#4473B5"/>
<rect x="1693.50" y="747.00" width="90.50" height="56.80" fill="#FCBD7A"/>
<rect x="1787.00" y="747.00" width="90.50" height="56.80" fill="#FEE69D"/>
<rect x="1880.50" y="747.00" width="90.50" height="56.80" fill="#FDE094"/>
<rect x="1600.00" y="806.20" width="90.50" height="56.80" fill="#4473B5"/>
<rect x="1693.50" y="806.20" width="90.50" height="56.80" fill="#FBD48A"/>
<rect x="1787.00" y="806.20" width="90.50" height="56.80" fill="#FBD189"/>
<rect x="1880.50" y="806.20" width="90.50" height="56.80" fill="#FEE298"/>
<rect x="2032.30" y="751.70" width="55.50" height="55.05" fill="#FDDC8E"/>
<rect x="2090.80" y="751.70" width="55.50" height="55.05" fill="#D4EAF4"/>
<rect x="2149.30" y="751.70" width="55.50" height="55.05" fill="#EC6946"/>
<rect x="2207.80" y="751.70" width="55.50" height="55.05" fill="#88B3D6"/>
<rect x="2032.30" y="809.15" width="55.50" height="55.05" fill="#FDFCBF"/>
<rect x="2090.80" y="809.15" width="55.50" height="55.05" fill="#C5E0EC"/>
<rect x="2149.30" y="809.15" width="55.50" height="55.05" fill="#DC3E2D"/>
<rect x="2207.80" y="809.15" width="55.50" height="55.05" fill="#B4D4E6"/>
<text class="b" transform="translate(1213.20 944.50) scale(0.977 1)">Stress-related transcription factors</text>
<text transform="translate(1219.00 1021.00) scale(0.977 1)">NAC14_ARATH</text>
<text transform="translate(1219.00 1079.55) scale(0.977 1)">NAC17_ARATH</text>
<text transform="translate(1219.00 1138.10) scale(0.977 1)">NAC22_ARATH</text>
<text transform="translate(1219.00 1196.65) scale(0.977 1)">NAC42_ARATH</text>
<text transform="translate(1219.00 1255.20) scale(0.977 1)">NAC48_ORYSJ</text>
<text transform="translate(1219.00 1313.75) scale(0.977 1)">NAC54_ARATH</text>
<text transform="translate(1219.00 1372.30) scale(0.977 1)">NAC71_ORYSJ</text>
<text transform="translate(1219.00 1430.85) scale(0.977 1)">NAC73_ARATH</text>
<text transform="translate(1219.00 1489.40) scale(0.977 1)">NAC74_ORYSJ</text>
<text transform="translate(1219.00 1547.95) scale(0.977 1)">NAC78_ARATH</text>
<text transform="translate(1219.00 1606.50) scale(0.977 1)">NAC8_ARATH</text>
<text transform="translate(1219.00 1665.05) scale(0.977 1)">NAC82_ARATH</text>
<text transform="translate(1219.00 1723.60) scale(0.977 1)">NACK1_ARATH</text>
<text transform="translate(1219.00 1782.15) scale(0.977 1)">MYB1_HORVU</text>
<text transform="translate(1219.00 1840.70) scale(0.977 1)">MYB44_ARATH</text>
<text transform="translate(1219.00 1899.25) scale(0.977 1)">MYB86_ARATH</text>
<text transform="translate(1219.00 1957.80) scale(0.977 1)">MYBA2_ORYSJ</text>
<text transform="translate(1219.00 2016.35) scale(0.977 1)">MYBF_ARATH</text>
<text transform="translate(1219.00 2074.90) scale(0.977 1)">MYBL_DICDI</text>
<text transform="translate(1219.00 2133.45) scale(0.977 1)">MYBO_DICDI</text>
<rect x="1599.30" y="979.30" width="90.62" height="56.16" fill="#4F7DB8"/>
<rect x="1692.92" y="979.30" width="90.62" height="56.16" fill="#FCA366"/>
<rect x="1786.55" y="979.30" width="90.62" height="56.16" fill="#FDDA8D"/>
<rect x="1880.17" y="979.30" width="90.62" height="56.16" fill="#FEF9BA"/>
<rect x="1599.30" y="1037.86" width="90.62" height="56.16" fill="#4473B5"/>
<rect x="1692.92" y="1037.86" width="90.62" height="56.16" fill="#FDDE90"/>
<rect x="1786.55" y="1037.86" width="90.62" height="56.16" fill="#FCCD86"/>
<rect x="1880.17" y="1037.86" width="90.62" height="56.16" fill="#FDDE90"/>
<rect x="1599.30" y="1096.41" width="90.62" height="56.16" fill="#72A0CA"/>
<rect x="1692.92" y="1096.41" width="90.62" height="56.16" fill="#EAF5E5"/>
<rect x="1786.55" y="1096.41" width="90.62" height="56.16" fill="#EC6845"/>
<rect x="1880.17" y="1096.41" width="90.62" height="56.16" fill="#FEE398"/>
<rect x="1599.30" y="1154.96" width="90.62" height="56.16" fill="#FDD98A"/>
<rect x="1692.92" y="1154.96" width="90.62" height="56.16" fill="#E0F2F5"/>
<rect x="1786.55" y="1154.96" width="90.62" height="56.16" fill="#EF744B"/>
<rect x="1880.17" y="1154.96" width="90.62" height="56.16" fill="#78A6CD"/>
<rect x="1599.30" y="1213.52" width="90.62" height="56.16" fill="#E3F3EF"/>
<rect x="1692.92" y="1213.52" width="90.62" height="56.16" fill="#D72E26"/>
<rect x="1786.55" y="1213.52" width="90.62" height="56.16" fill="#E0F2F5"/>
<rect x="1880.17" y="1213.52" width="90.62" height="56.16" fill="#D0E7F0"/>
<rect x="1599.30" y="1272.08" width="90.62" height="56.16" fill="#B9D8E9"/>
<rect x="1692.92" y="1272.08" width="90.62" height="56.16" fill="#AED0E4"/>
<rect x="1786.55" y="1272.08" width="90.62" height="56.16" fill="#FEF2AE"/>
<rect x="1880.17" y="1272.08" width="90.62" height="56.16" fill="#DF4530"/>
<rect x="1599.30" y="1330.63" width="90.62" height="56.16" fill="#76A6CF"/>
<rect x="1692.92" y="1330.63" width="90.62" height="56.16" fill="#E75D3F"/>
<rect x="1786.55" y="1330.63" width="90.62" height="56.16" fill="#FEF2AE"/>
<rect x="1880.17" y="1330.63" width="90.62" height="56.16" fill="#F0F7DC"/>
<rect x="1599.30" y="1389.18" width="90.62" height="56.16" fill="#4877B6"/>
<rect x="1692.92" y="1389.18" width="90.62" height="56.16" fill="#FEF2AE"/>
<rect x="1786.55" y="1389.18" width="90.62" height="56.16" fill="#FBAA6B"/>
<rect x="1880.17" y="1389.18" width="90.62" height="56.16" fill="#FDDB8E"/>
<rect x="1599.30" y="1447.74" width="90.62" height="56.16" fill="#6694C5"/>
<rect x="1692.92" y="1447.74" width="90.62" height="56.16" fill="#FDB777"/>
<rect x="1786.55" y="1447.74" width="90.62" height="56.16" fill="#FB965E"/>
<rect x="1880.17" y="1447.74" width="90.62" height="56.16" fill="#E8F5E3"/>
<rect x="1599.30" y="1506.30" width="90.62" height="56.16" fill="#4473B5"/>
<rect x="1692.92" y="1506.30" width="90.62" height="56.16" fill="#FDCA84"/>
<rect x="1786.55" y="1506.30" width="90.62" height="56.16" fill="#FBD28A"/>
<rect x="1880.17" y="1506.30" width="90.62" height="56.16" fill="#FEE49C"/>
<rect x="1599.30" y="1564.85" width="90.62" height="56.16" fill="#6694C5"/>
<rect x="1692.92" y="1564.85" width="90.62" height="56.16" fill="#FEEAA3"/>
<rect x="1786.55" y="1564.85" width="90.62" height="56.16" fill="#EC6845"/>
<rect x="1880.17" y="1564.85" width="90.62" height="56.16" fill="#F4F9D2"/>
<rect x="1599.30" y="1623.40" width="90.62" height="56.16" fill="#4473B5"/>
<rect x="1692.92" y="1623.40" width="90.62" height="56.16" fill="#FCC37E"/>
<rect x="1786.55" y="1623.40" width="90.62" height="56.16" fill="#FCCF86"/>
<rect x="1880.17" y="1623.40" width="90.62" height="56.16" fill="#FEEBA3"/>
<rect x="1599.30" y="1681.96" width="90.62" height="56.16" fill="#A2C8E0"/>
<rect x="1692.92" y="1681.96" width="90.62" height="56.16" fill="#EAF5E5"/>
<rect x="1786.55" y="1681.96" width="90.62" height="56.16" fill="#D73228"/>
<rect x="1880.17" y="1681.96" width="90.62" height="56.16" fill="#EFF7DE"/>
<rect x="1599.30" y="1740.52" width="90.62" height="56.16" fill="#6F9CC9"/>
<rect x="1692.92" y="1740.52" width="90.62" height="56.16" fill="#F7FBCC"/>
<rect x="1786.55" y="1740.52" width="90.62" height="56.16" fill="#E85C3E"/>
<rect x="1880.17" y="1740.52" width="90.62" height="56.16" fill="#FEFAC0"/>
<rect x="1599.30" y="1799.07" width="90.62" height="56.16" fill="#EFF8DA"/>
<rect x="1692.92" y="1799.07" width="90.62" height="56.16" fill="#D1E8F2"/>
<rect x="1786.55" y="1799.07" width="90.62" height="56.16" fill="#D62E26"/>
<rect x="1880.17" y="1799.07" width="90.62" height="56.16" fill="#C2DFEA"/>
<rect x="1599.30" y="1857.62" width="90.62" height="56.16" fill="#EC6945"/>
<rect x="1692.92" y="1857.62" width="90.62" height="56.16" fill="#FEF2AE"/>
<rect x="1786.55" y="1857.62" width="90.62" height="56.16" fill="#FCFBC2"/>
<rect x="1880.17" y="1857.62" width="90.62" height="56.16" fill="#6491C3"/>
<rect x="1599.30" y="1916.18" width="90.62" height="56.16" fill="#5A88BF"/>
<rect x="1692.92" y="1916.18" width="90.62" height="56.16" fill="#FDFDC0"/>
<rect x="1786.55" y="1916.18" width="90.62" height="56.16" fill="#F27A4E"/>
<rect x="1880.17" y="1916.18" width="90.62" height="56.16" fill="#FEE9A2"/>
<rect x="1599.30" y="1974.74" width="90.62" height="56.16" fill="#4473B5"/>
<rect x="1692.92" y="1974.74" width="90.62" height="56.16" fill="#FDCA84"/>
<rect x="1786.55" y="1974.74" width="90.62" height="56.16" fill="#FDDA8C"/>
<rect x="1880.17" y="1974.74" width="90.62" height="56.16" fill="#FDDD8E"/>
<rect x="1599.30" y="2033.29" width="90.62" height="56.16" fill="#74A1CA"/>
<rect x="1692.92" y="2033.29" width="90.62" height="56.16" fill="#FB995E"/>
<rect x="1786.55" y="2033.29" width="90.62" height="56.16" fill="#FBAE6F"/>
<rect x="1880.17" y="2033.29" width="90.62" height="56.16" fill="#E0F1F6"/>
<rect x="1599.30" y="2091.85" width="90.62" height="56.16" fill="#4876B5"/>
<rect x="1692.92" y="2091.85" width="90.62" height="56.16" fill="#FCAE6F"/>
<rect x="1786.55" y="2091.85" width="90.62" height="56.16" fill="#FDDA8B"/>
<rect x="1880.17" y="2091.85" width="90.62" height="56.16" fill="#FEEDA6"/>
<rect x="2031.50" y="982.80" width="56.02" height="56.08" fill="#FDDC8E"/>
<rect x="2090.53" y="982.80" width="56.02" height="56.08" fill="#C9E3EE"/>
<rect x="2149.55" y="982.80" width="56.02" height="56.08" fill="#E9603F"/>
<rect x="2208.57" y="982.80" width="56.02" height="56.08" fill="#91BCDC"/>
<rect x="2031.50" y="1041.28" width="56.02" height="56.08" fill="#E14B33"/>
<rect x="2090.53" y="1041.28" width="56.02" height="56.08" fill="#ACCDE2"/>
<rect x="2149.55" y="1041.28" width="56.02" height="56.08" fill="#FEEAA3"/>
<rect x="2208.57" y="1041.28" width="56.02" height="56.08" fill="#B6D5E8"/>
<rect x="2031.50" y="1099.76" width="56.02" height="56.08" fill="#FBA264"/>
<rect x="2090.53" y="1099.76" width="56.02" height="56.08" fill="#6694C5"/>
<rect x="2149.55" y="1099.76" width="56.02" height="56.08" fill="#FCAE6F"/>
<rect x="2208.57" y="1099.76" width="56.02" height="56.08" fill="#EBF6E3"/>
<rect x="2031.50" y="1158.24" width="56.02" height="56.08" fill="#DCEFF6"/>
<rect x="2090.53" y="1158.24" width="56.02" height="56.08" fill="#7BA7D0"/>
<rect x="2149.55" y="1158.24" width="56.02" height="56.08" fill="#F98752"/>
<rect x="2208.57" y="1158.24" width="56.02" height="56.08" fill="#FCC17C"/>
<rect x="2031.50" y="1216.72" width="56.02" height="56.08" fill="#FA995E"/>
<rect x="2090.53" y="1216.72" width="56.02" height="56.08" fill="#FEEBA3"/>
<rect x="2149.55" y="1216.72" width="56.02" height="56.08" fill="#FEF2AC"/>
<rect x="2208.57" y="1216.72" width="56.02" height="56.08" fill="#4F7FB9"/>
<rect x="2031.50" y="1275.20" width="56.02" height="56.08" fill="#5080BA"/>
<rect x="2090.53" y="1275.20" width="56.02" height="56.08" fill="#FDDC8E"/>
<rect x="2149.55" y="1275.20" width="56.02" height="56.08" fill="#FEFAC4"/>
<rect x="2208.57" y="1275.20" width="56.02" height="56.08" fill="#FA995E"/>
<rect x="2031.50" y="1333.68" width="56.02" height="56.08" fill="#FBAE6F"/>
<rect x="2090.53" y="1333.68" width="56.02" height="56.08" fill="#F0F8D8"/>
<rect x="2149.55" y="1333.68" width="56.02" height="56.08" fill="#FBA86A"/>
<rect x="2208.57" y="1333.68" width="56.02" height="56.08" fill="#6392C4"/>
<rect x="2031.50" y="1392.16" width="56.02" height="56.08" fill="#FEF1AA"/>
<rect x="2090.53" y="1392.16" width="56.02" height="56.08" fill="#92BDDA"/>
<rect x="2149.55" y="1392.16" width="56.02" height="56.08" fill="#E24A33"/>
<rect x="2208.57" y="1392.16" width="56.02" height="56.08" fill="#DFF1F6"/>
<rect x="2031.50" y="1450.64" width="56.02" height="56.08" fill="#FDDD8F"/>
<rect x="2090.53" y="1450.64" width="56.02" height="56.08" fill="#9DC5DD"/>
<rect x="2149.55" y="1450.64" width="56.02" height="56.08" fill="#E8603F"/>
<rect x="2208.57" y="1450.64" width="56.02" height="56.08" fill="#B7D6E8"/>
<rect x="2031.50" y="1509.12" width="56.02" height="56.08" fill="#FDDB8E"/>
<rect x="2090.53" y="1509.12" width="56.02" height="56.08" fill="#B1D3E6"/>
<rect x="2149.55" y="1509.12" width="56.02" height="56.08" fill="#ED6A45"/>
<rect x="2208.57" y="1509.12" width="56.02" height="56.08" fill="#A2C9E0"/>
<rect x="2031.50" y="1567.60" width="56.02" height="56.08" fill="#CFE6F1"/>
<rect x="2090.53" y="1567.60" width="56.02" height="56.08" fill="#C6E1ED"/>
<rect x="2149.55" y="1567.60" width="56.02" height="56.08" fill="#D62C25"/>
<rect x="2208.57" y="1567.60" width="56.02" height="56.08" fill="#F2F9D6"/>
<rect x="2031.50" y="1626.08" width="56.02" height="56.08" fill="#FDDC8E"/>
<rect x="2090.53" y="1626.08" width="56.02" height="56.08" fill="#B5D5E7"/>
<rect x="2149.55" y="1626.08" width="56.02" height="56.08" fill="#E5553A"/>
<rect x="2208.57" y="1626.08" width="56.02" height="56.08" fill="#A3C9E0"/>
<rect x="2031.50" y="1684.56" width="56.02" height="56.08" fill="#7FA9D0"/>
<rect x="2090.53" y="1684.56" width="56.02" height="56.08" fill="#E6F4EA"/>
<rect x="2149.55" y="1684.56" width="56.02" height="56.08" fill="#E65A3E"/>
<rect x="2208.57" y="1684.56" width="56.02" height="56.08" fill="#FEEEA5"/>
<rect x="2031.50" y="1743.04" width="56.02" height="56.08" fill="#F1F7DC"/>
<rect x="2090.53" y="1743.04" width="56.02" height="56.08" fill="#91BCDB"/>
<rect x="2149.55" y="1743.04" width="56.02" height="56.08" fill="#DC3D2C"/>
<rect x="2208.57" y="1743.04" width="56.02" height="56.08" fill="#F4FAD4"/>
<rect x="2031.50" y="1801.52" width="56.02" height="56.08" fill="#4473B5"/>
<rect x="2090.53" y="1801.52" width="56.02" height="56.08" fill="#FEE99F"/>
<rect x="2149.55" y="1801.52" width="56.02" height="56.08" fill="#FCB070"/>
<rect x="2208.57" y="1801.52" width="56.02" height="56.08" fill="#FEE395"/>
<rect x="2031.50" y="1860.00" width="56.02" height="56.08" fill="#4473B5"/>
<rect x="2090.53" y="1860.00" width="56.02" height="56.08" fill="#FDC882"/>
<rect x="2149.55" y="1860.00" width="56.02" height="56.08" fill="#FDDC8E"/>
<rect x="2208.57" y="1860.00" width="56.02" height="56.08" fill="#FDE093"/>
<rect x="2031.50" y="1918.48" width="56.02" height="56.08" fill="#FCFCC6"/>
<rect x="2090.53" y="1918.48" width="56.02" height="56.08" fill="#88B3D6"/>
<rect x="2149.55" y="1918.48" width="56.02" height="56.08" fill="#DD3F2D"/>
<rect x="2208.57" y="1918.48" width="56.02" height="56.08" fill="#F0F8DC"/>
<rect x="2031.50" y="1976.96" width="56.02" height="56.08" fill="#FA955F"/>
<rect x="2090.53" y="1976.96" width="56.02" height="56.08" fill="#AED0E4"/>
<rect x="2149.55" y="1976.96" width="56.02" height="56.08" fill="#FCAC6D"/>
<rect x="2208.57" y="1976.96" width="56.02" height="56.08" fill="#A0C6DF"/>
<rect x="2031.50" y="2035.44" width="56.02" height="56.08" fill="#FEF0AA"/>
<rect x="2090.53" y="2035.44" width="56.02" height="56.08" fill="#B3D3E6"/>
<rect x="2149.55" y="2035.44" width="56.02" height="56.08" fill="#DD4330"/>
<rect x="2208.57" y="2035.44" width="56.02" height="56.08" fill="#BBDAEA"/>
<rect x="2031.50" y="2093.92" width="56.02" height="56.08" fill="#FDDA8B"/>
<rect x="2090.53" y="2093.92" width="56.02" height="56.08" fill="#C3DFEB"/>
<rect x="2149.55" y="2093.92" width="56.02" height="56.08" fill="#EB6A45"/>
<rect x="2208.57" y="2093.92" width="56.02" height="56.08" fill="#95C0DC"/>
<text text-anchor="end" transform="translate(1648.26 2206.00) rotate(-45)">M313LC</text>
<text text-anchor="end" transform="translate(1741.79 2206.00) rotate(-45)">M313LT</text>
<text text-anchor="end" transform="translate(1835.31 2206.00) rotate(-45)">M016LC</text>
<text text-anchor="end" transform="translate(1928.84 2206.00) rotate(-45)">M016LT</text>
<text text-anchor="end" transform="translate(2062.66 2210.50) rotate(-45)">a</text>
<text text-anchor="end" transform="translate(2121.59 2210.50) rotate(-45)">b</text>
<text text-anchor="end" transform="translate(2180.51 2210.50) rotate(-45)">c</text>
<text text-anchor="end" transform="translate(2239.44 2210.50) rotate(-45)">d</text>
<rect x="2313.4" y="102" width="24" height="351" fill="url(#lg)"/>
<text transform="translate(2366 181.4) scale(0.977 1)">1</text>
<text transform="translate(2366 297.5) scale(0.977 1)">0</text>
<text transform="translate(2359.5 414.8) scale(0.977 1)">−1</text>
</svg></div>
</body></html>
